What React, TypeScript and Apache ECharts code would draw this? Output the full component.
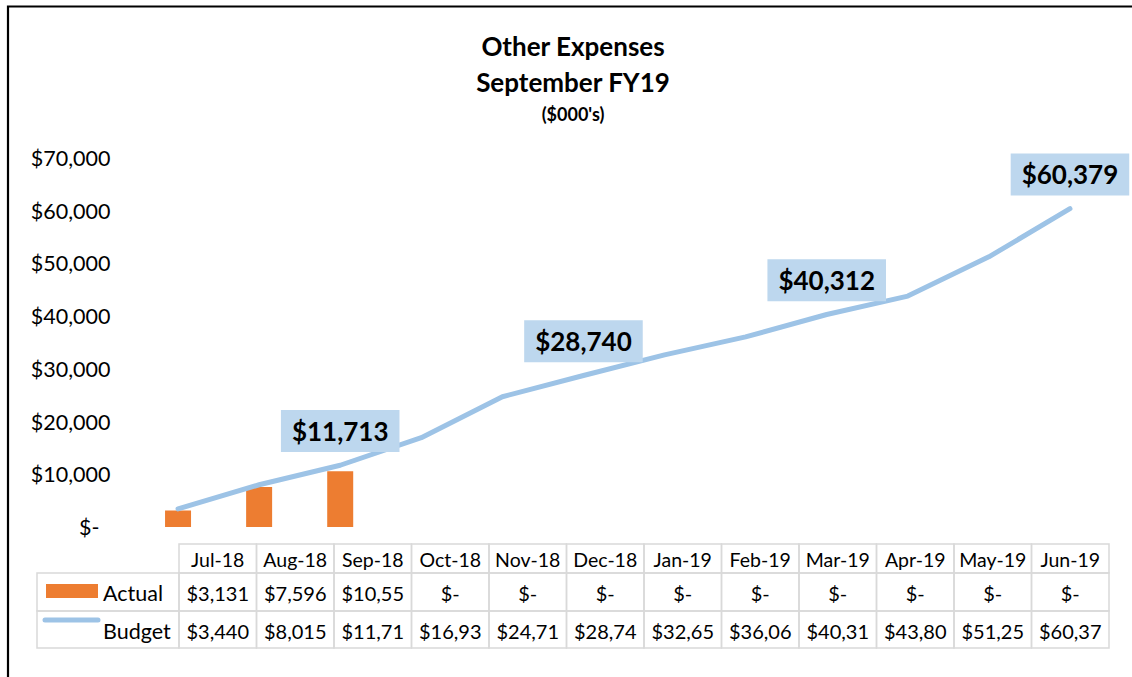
import React, { useEffect, useRef } from "react";
import * as echarts from "echarts";

const categories = ["Jul-18", "Aug-18", "Sep-18", "Oct-18", "Nov-18", "Dec-18", "Jan-19", "Feb-19", "Mar-19", "Apr-19", "May-19", "Jun-19"];
const actual = [3131, 7596, 10553, 0, 0, 0, 0, 0, 0, 0, 0, 0];
const budget = [3440, 8015, 11713, 16934, 24712, 28740, 32652, 36061, 40312, 43804, 51253, 60379];
const labelledMonths = ["Sep-18", "Dec-18", "Mar-19", "Jun-19"];
const yTicks = { min: 0, max: 70000, interval: 10000 };

const FONT = "Lato";
const ORANGE = "#ED7D31";
const BLUE = "#9DC3E6";

const fmt = (v: number) => (v === 0 ? "$-" : "$" + v.toLocaleString("en-US"));
const cellText = (v: number) => fmt(v).slice(0, 6);

function buildTable() {
  const els: any[] = [];
  const left = 37;
  const colStart = 179;
  const colW = 77.5;
  const rows = [544, 573, 611, 648];
  const grey = "#D9D9D9";
  const lw = 1.5;
  const n = categories.length;
  categories.forEach((c, i) => {
    els.push({ type: "rect", shape: { x: colStart + i * colW, y: rows[0], width: colW, height: rows[1] - rows[0] }, style: { fill: "none", stroke: grey, lineWidth: lw }, silent: true });
  });
  for (let r = 1; r <= 2; r++) {
    els.push({ type: "rect", shape: { x: left, y: rows[r], width: colStart - left, height: rows[r + 1] - rows[r] }, style: { fill: "none", stroke: grey, lineWidth: lw }, silent: true });
    for (let i = 0; i < n; i++) {
      els.push({ type: "rect", shape: { x: colStart + i * colW, y: rows[r], width: colW, height: rows[r + 1] - rows[r] }, style: { fill: "none", stroke: grey, lineWidth: lw }, silent: true });
    }
  }
  const txt = (t: string, x: number, y: number, align = "center", size = 20) => ({
    type: "text",
    silent: true,
    style: { text: t, x, y, align, verticalAlign: "middle", textAlign: align, textVerticalAlign: "middle", fontSize: size, fontFamily: FONT, fill: "#000" },
  });
  categories.forEach((c, i) => {
    const cx = colStart + i * colW + colW / 2;
    els.push(txt(c, cx, (rows[0] + rows[1]) / 2 + 1, "center", 19.5));
    els.push(txt(cellText(actual[i]), cx, (rows[1] + rows[2]) / 2 + 1));
    els.push(txt(cellText(budget[i]), cx, (rows[2] + rows[3]) / 2 + 1));
  });
  els.push({ type: "rect", shape: { x: 46, y: 584, width: 52, height: 14 }, style: { fill: ORANGE }, silent: true });
  els.push(txt("Actual", 103, (rows[1] + rows[2]) / 2 + 1, "left", 21.5));
  els.push({ type: "line", shape: { x1: 45, y1: 620, x2: 98, y2: 620 }, style: { stroke: BLUE, lineWidth: 5, lineCap: "round" }, silent: true });
  els.push(txt("Budget", 103, (rows[2] + rows[3]) / 2 + 1, "left", 21.5));
  els.push({ type: "rect", shape: { x: 8, y: 6.5, width: 1300, height: 800 }, style: { fill: "none", stroke: "#000", lineWidth: 2.2 }, silent: true, z: 100 });
  return els;
}

export default function App() {
  const ref = useRef<HTMLDivElement>(null);
  useEffect(() => {
    if (!ref.current) return;
    const chart = echarts.init(ref.current, undefined, { renderer: "svg" });
    const option: any = {
      animation: false,
      backgroundColor: "#fff",
      title: [
        { text: "Other Expenses", left: 568, top: 28, textAlign: "center", textStyle: { fontFamily: FONT, fontWeight: "bold", fontSize: 26, color: "#000" } },
        { text: "September FY19", left: 568, top: 64, textAlign: "center", textStyle: { fontFamily: FONT, fontWeight: "bold", fontSize: 26, color: "#000" } },
        { text: "($000's)", left: 568, top: 100, textAlign: "center", textStyle: { fontFamily: FONT, fontWeight: "bold", fontSize: 18, color: "#000" } },
      ],
      grid: { left: 137.5, right: 21.5, top: 158, bottom: 150 },
      xAxis: {
        type: "category",
        data: categories,
        boundaryGap: true,
        axisLine: { show: false },
        axisTick: { show: false },
        axisLabel: { show: false },
        splitLine: { show: false },
      },
      yAxis: {
        type: "value",
        min: yTicks.min,
        max: yTicks.max,
        interval: yTicks.interval,
        splitLine: { show: false },
        axisLine: { show: false },
        axisTick: { show: false },
        axisLabel: {
          margin: 27,
          fontFamily: FONT,
          fontSize: 21.5,
          color: "#000",
          formatter: (v: number) => (v === 0 ? "{z|$-}" : fmt(v)),
          rich: { z: { fontFamily: FONT, fontSize: 21.5, color: "#000", padding: [0, 11, 0, 0] } },
        },
      },
      series: [
        {
          name: "Actual",
          type: "bar",
          data: actual,
          barWidth: 26,
          itemStyle: { color: ORANGE },
          z: 2,
        },
        {
          name: "Budget",
          type: "line",
          data: budget.map((v, i) => ({
            value: v,
            label: labelledMonths.includes(categories[i])
              ? {
                  show: true,
                  position: "top",
                  distance: 13,
                  formatter: () => fmt(v),
                  backgroundColor: "#BDD7EE",
                  padding: [8, 11, 8, 11],
                  fontFamily: FONT,
                  fontWeight: "bold",
                  fontSize: 26,
                  lineHeight: 26,
                  color: "#000",
                }
              : { show: false },
          })),
          symbol: "circle",
          symbolSize: 0.5,
          showSymbol: true,
          showAllSymbol: true,
          lineStyle: { color: BLUE, width: 5, cap: "round", join: "round" },
          itemStyle: { color: BLUE },
          z: 3,
        },
      ],
      graphic: buildTable(),
    };
    chart.setOption(option);
    return () => chart.dispose();
  }, []);
  return <div ref={ref} style={{ position: "fixed", left: 0, top: 0, width: 1132, height: 677 }} />;
}
